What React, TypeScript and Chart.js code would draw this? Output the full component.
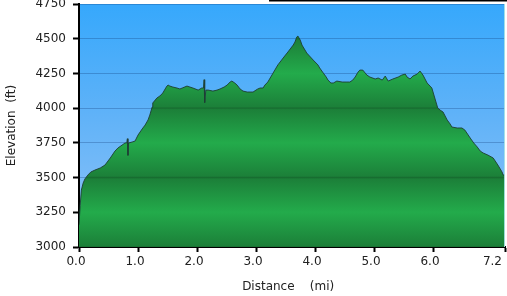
import React, { useEffect, useRef } from "react";
import { Chart, registerables } from "chart.js";

Chart.register(...registerables);

const distances = [
  0.0, 0.02, 0.04, 0.07, 0.1, 0.15, 0.2, 0.27, 0.36, 0.44,
  0.53, 0.61, 0.66, 0.73, 0.78, 0.81, 0.82, 0.83, 0.84, 0.9,
  0.95, 1.0, 1.07, 1.12, 1.17, 1.2, 1.24, 1.25, 1.32, 1.37,
  1.42, 1.46, 1.49, 1.51, 1.54, 1.59, 1.66, 1.71, 1.75, 1.83,
  1.88, 1.93, 2.02, 2.08, 2.11, 2.12, 2.13, 2.15, 2.19, 2.27,
  2.34, 2.39, 2.46, 2.51, 2.56, 2.59, 2.64, 2.68, 2.73, 2.78,
  2.85, 2.9, 2.95, 3.0, 3.03, 3.07, 3.12, 3.15, 3.2, 3.29,
  3.37, 3.46, 3.54, 3.63, 3.66, 3.69, 3.71, 3.75, 3.78, 3.86,
  3.97, 4.05, 4.08, 4.14, 4.19, 4.22, 4.27, 4.31, 4.37, 4.46,
  4.54, 4.59, 4.64, 4.68, 4.73, 4.76, 4.81, 4.85, 4.88, 4.93,
  5.02, 5.07, 5.14, 5.19, 5.24, 5.32, 5.41, 5.47, 5.53, 5.56,
  5.61, 5.66, 5.73, 5.78, 5.83, 5.9, 5.95, 5.98, 6.03, 6.08,
  6.12, 6.17, 6.24, 6.29, 6.32, 6.41, 6.49, 6.54, 6.63, 6.69,
  6.75, 6.8, 6.85, 6.93, 7.02, 7.1, 7.17, 7.19, 7.22,
];

const elevations = [
  3160, 3300, 3410, 3460, 3490, 3518, 3540, 3554, 3569, 3590,
  3641, 3691, 3713, 3734, 3749, 3750, 3780, 3660, 3749, 3756,
  3763, 3806, 3850, 3878, 3915, 3950, 4008, 4037, 4073, 4087,
  4109, 4138, 4159, 4166, 4159, 4152, 4145, 4138, 4145, 4159,
  4152, 4145, 4130, 4145, 4145, 4205, 4040, 4130, 4130, 4123,
  4130, 4138, 4152, 4166, 4188, 4195, 4181, 4166, 4138, 4123,
  4116, 4116, 4116, 4130, 4138, 4145, 4145, 4166, 4188, 4253,
  4311, 4361, 4404, 4454, 4476, 4512, 4519, 4490, 4454, 4397,
  4346, 4311, 4289, 4253, 4224, 4202, 4181, 4181, 4195, 4188,
  4188, 4188, 4202, 4224, 4260, 4274, 4274, 4253, 4238, 4224,
  4210, 4217, 4202, 4231, 4195, 4210, 4224, 4238, 4245, 4224,
  4210, 4231, 4245, 4267, 4238, 4181, 4159, 4145, 4073, 4001,
  3986, 3972, 3915, 3886, 3864, 3857, 3857, 3842, 3785, 3749,
  3720, 3691, 3677, 3662, 3641, 3590, 3540, 3518, 3518,
];

const xTicks = [0, 1, 2, 3, 4, 5, 6, 7.22];
const yMin = 3000;
const yMax = 4750;
const yStep = 250;

const xTitle = "Distance    (mi)  ";
const yTitle = "Elevation  (ft)";

const bgPlugin = {
  id: "bgPlugin",
  beforeDraw(chart: any) {
    const { ctx, chartArea } = chart;
    if (!chartArea) return;
    const g = ctx.createLinearGradient(0, chartArea.top, 0, chartArea.bottom);
    g.addColorStop(0, "#36a8fc");
    g.addColorStop(0.45, "#5fb2f8");
    g.addColorStop(1, "#92c4f8");
    ctx.save();
    ctx.fillStyle = g;
    ctx.fillRect(chartArea.left, chartArea.top, chartArea.right - chartArea.left, chartArea.bottom - chartArea.top);
    ctx.restore();
  },
  afterDraw(chart: any) {
    const { ctx, chartArea } = chart;
    ctx.save();
    ctx.fillStyle = "#000";
    ctx.fillRect(269, 0, 238, 1.5);
    ctx.strokeStyle = "rgba(170,230,230,0.9)";
    ctx.lineWidth = 1;
    ctx.beginPath();
    ctx.moveTo(chartArea.right - 0.5, chartArea.top);
    ctx.lineTo(chartArea.right - 0.5, chartArea.bottom);
    ctx.stroke();
    ctx.restore();
  },
};

function greenFill(context: any) {
  const chart = context.chart;
  const { chartArea, scales } = chart;
  if (!chartArea || !scales.y) return "#21a84a";
  const top = chartArea.top;
  const bottom = chartArea.bottom;
  const h = bottom - top;
  const g = chart.ctx.createLinearGradient(0, top, 0, bottom);
  const light = "#23ab4b";
  const dark = "#1c8039";
  const line = "#176c30";
  for (let v = yMax; v >= yMin; v -= yStep) {
    const p = (scales.y.getPixelForValue(v) - top) / h;
    const t = Math.min(1, Math.max(0, p));
    if (((v - yMin) / yStep) % 2 === 0) {
      g.addColorStop(Math.max(0, t - 0.006), dark);
      g.addColorStop(t, line);
      g.addColorStop(Math.min(1, t + 0.006), dark);
    } else {
      g.addColorStop(t, light);
    }
  }
  return g;
}

export default function App() {
  const ref = useRef<HTMLCanvasElement | null>(null);

  useEffect(() => {
    if (!ref.current) return;
    Chart.defaults.font.family = "'DejaVu Sans', Verdana, sans-serif";
    Chart.defaults.font.size = 12;
    Chart.defaults.color = "#222";
    const points = distances.map((d, i) => ({ x: d, y: elevations[i] }));
    const chart = new Chart(ref.current, {
      type: "line",
      data: {
        datasets: [
          {
            data: points,
            borderColor: "rgba(30,62,52,0.9)",
            borderWidth: 1,
            pointRadius: 0,
            tension: 0,
            fill: "start",
            backgroundColor: greenFill,
          },
        ],
      },
      options: {
        animation: false,
        responsive: false,
        layout: { padding: { top: 4, right: 2, left: 0, bottom: 0 } },
        plugins: {
          legend: { display: false },
          tooltip: { enabled: false },
        },
        scales: {
          x: {
            type: "linear",
            min: 0,
            max: 7.22,
            afterBuildTicks(scale: any) {
              scale.ticks = xTicks.map((v) => ({ value: v }));
            },
            afterFit(scale: any) {
              scale.height = 49;
              scale.paddingLeft = 0;
              scale.paddingRight = 0;
            },
            ticks: {
              autoSkip: false,
              maxRotation: 0,
              padding: 3,
              labelOffset: -3,
              color: "#222",
              font: { size: 12 },
              callback(value: any, index: number, ticks: any[]) {
                const s = Number(value).toFixed(1);
                return index === ticks.length - 1 ? s + "     " : s;
              },
            },
            grid: {
              drawOnChartArea: false,
              drawTicks: true,
              tickLength: 5,
              tickColor: "#000",
              tickWidth: 2,
            },
            border: { display: true, color: "#000", width: 2 },
            title: {
              display: true,
              text: xTitle,
              color: "#222",
              font: { size: 12 },
              padding: { top: 0, bottom: 2 },
            },
          },
          y: {
            type: "linear",
            min: yMin,
            max: yMax,
            afterFit(scale: any) {
              scale.width = 79;
              scale.paddingTop = 0;
              scale.paddingBottom = 0;
            },
            ticks: {
              stepSize: yStep,
              padding: 7,
              color: "#222",
              font: { size: 12 },
              callback(value: any) {
                return String(value);
              },
            },
            grid: {
              color: "rgba(10,50,110,0.28)",
              lineWidth: 1,
              drawTicks: true,
              tickLength: 6,
              tickColor: "#000",
              tickWidth: 2,
            },
            border: { display: true, color: "#000", width: 2 },
            title: {
              display: true,
              text: yTitle,
              color: "#222",
              font: { size: 12 },
              padding: { top: 5, bottom: 0 },
            },
          },
        },
      },
      plugins: [bgPlugin],
    });
    return () => chart.destroy();
  }, []);

  return (
    <div style={{ position: "fixed", left: 0, top: 0, width: 507, height: 296, background: "#fff" }}>
      <canvas ref={ref} width={507} height={296} style={{ display: "block" }} />
    </div>
  );
}
